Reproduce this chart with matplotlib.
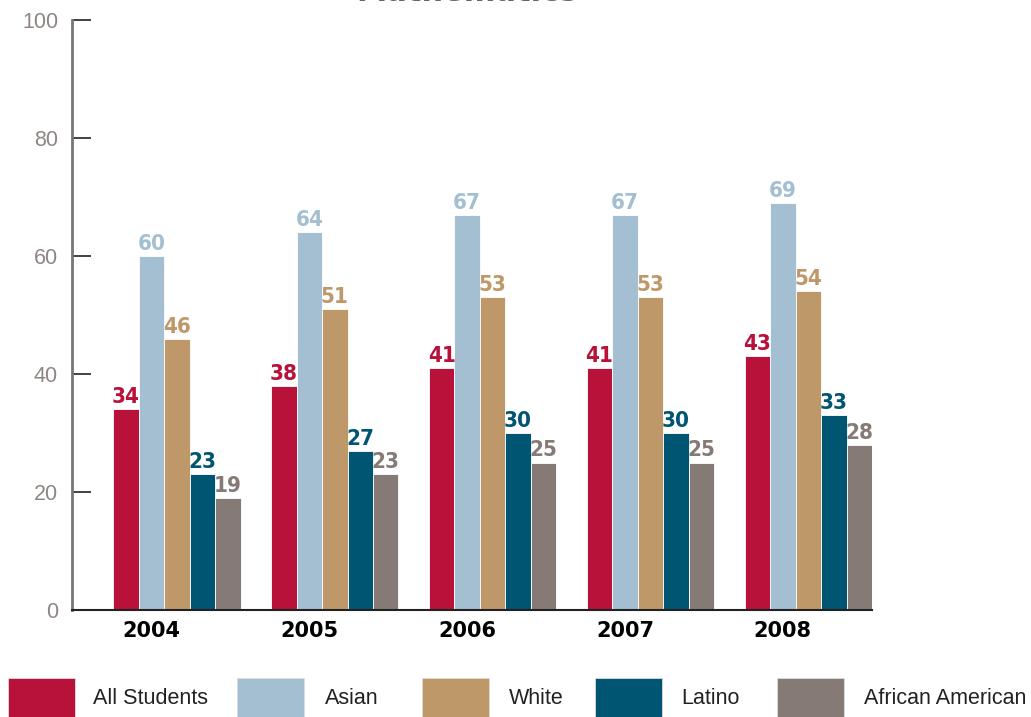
import numpy as np
import matplotlib.pyplot as plt
from matplotlib.patches import Rectangle

years = ["2004", "2005", "2006", "2007", "2008"]
groups = ["All Students", "Asian", "White", "Latino", "African American"]
all_students = [34, 38, 41, 41, 43]
asian = [60, 64, 67, 67, 69]
white = [46, 51, 53, 53, 54]
latino = [23, 27, 30, 30, 33]
african_american = [19, 23, 25, 25, 28]
series = [all_students, asian, white, latino, african_american]
colors = ["#B8123A", "#A3BFD1", "#BE9868", "#005573", "#857A76"]

W, H = 1031, 717
fig = plt.figure(figsize=(W / 100, H / 100), dpi=100)
ax = fig.add_axes([72 / W, 1 - 610 / H, 800 / W, 590 / H])

x = np.arange(len(years))
w = 25.5 / 158
for j, (vals, c) in enumerate(zip(series, colors)):
    pos = x + (j - 2) * w
    ax.bar(pos, vals, width=w, color=c, edgecolor="white", linewidth=0.6, zorder=2)
    for p, v in zip(pos, vals):
        ax.annotate(str(v), (p, v), xytext=(0, 1.5), textcoords="offset points",
                    ha="center", va="bottom", color=c, fontsize=16, fontweight="bold",
                    family="DejaVu Sans", fontstretch="condensed")

ax.set_xlim(-0.665, 4 + 2.5 * w)
ax.set_ylim(0, 100)
ax.set_yticks(range(0, 101, 20))
ax.set_xticks(x - w)
ax.set_xticklabels(years, fontsize=15, fontweight="bold", family="DejaVu Sans")
ax.tick_params(axis="x", length=0, pad=8)
ax.tick_params(axis="y", direction="in", length=14, width=1.3, color="#333333",
               pad=10, labelsize=15.5, labelcolor="#8e8683")
for lbl in ax.get_yticklabels():
    lbl.set_family("Liberation Sans")

for s in ["top", "right"]:
    ax.spines[s].set_visible(False)
ax.spines["left"].set_color("#777777")
ax.spines["left"].set_linewidth(2)
ax.spines["bottom"].set_color("#222222")
ax.spines["bottom"].set_linewidth(1.5)

# title cut off at the very top, as in the source image
fig.text(467 / W, 1 - 1 / H, "Mathematics", ha="center", va="baseline",
         fontsize=22, fontweight="bold", color="#666666")

# legend along the bottom edge
patch_x = [8, 237, 422, 595, 777]
text_x = [93, 325, 509, 681, 864]
for px, tx, name, c in zip(patch_x, text_x, groups, colors):
    fig.add_artist(Rectangle((px / W, 0), 67 / W, 39 / H, transform=fig.transFigure,
                             facecolor=c, edgecolor="#dddddd", linewidth=0.6))
    fig.text(tx / W, 1 - 698 / H, name, ha="left", va="center", fontsize=15.5,
             family="Liberation Sans", color="#222222")

plt.savefig("out.png", dpi=100)
